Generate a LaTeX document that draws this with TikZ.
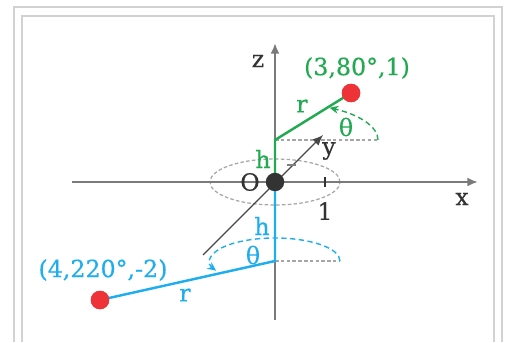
\documentclass[tikz,border=0pt]{standalone}
\usepackage{fontspec}
\setmainfont{DejaVu Serif}[FakeBold=0.5]
\usetikzlibrary{arrows.meta}
\definecolor{cgreen}{HTML}{22AA52}
\definecolor{cblue}{HTML}{1EAEEE}
\definecolor{cred}{HTML}{EE3338}
\definecolor{cdark}{HTML}{333333}
\definecolor{caxis}{HTML}{7A7A7A}
\definecolor{cframe}{HTML}{D2D2D2}
\begin{document}
\begin{tikzpicture}[x=0.02cm,y=0.02cm,
  lbl/.style={font=\fontsize{13.5}{15}\selectfont, inner sep=0pt},
  axisline/.style={draw=caxis, line width=1.2pt, -{Latex[length=6pt,width=5pt]}},
  yaxisline/.style={draw=cdark!90, line width=0.7pt, -{Latex[length=6pt,width=5pt]}},
  guide/.style={draw=gray!70, line width=0.7pt, dash pattern=on 2pt off 1.3pt},
  seg/.style={line width=1.4pt},
  angarc/.style={line width=0.8pt, dash pattern=on 3pt off 2pt, -{Stealth[length=5pt,width=4.5pt]}},
  reddot/.style={circle, fill=cred, minimum size=0.37cm, inner sep=0pt},
  blackdot/.style={circle, fill=cdark, minimum size=0.37cm, inner sep=0pt},
  framebox/.style={draw=cframe, line width=1.3pt}]
\useasboundingbox (0,0) rectangle (510,342);
% frame
\draw[framebox] (14,0) -- (14,335) -- (502,335) -- (502,0);
\draw[framebox] (22,0) -- (22,326) -- (494,326) -- (494,0);
% coordinates
\coordinate (Oc) at (275,160);
\coordinate (xs) at (72,160);
\coordinate (xe) at (478,160);
\coordinate (zs) at (275,22);
\coordinate (ze) at (275,299);
\coordinate (ys) at (203,87);
\coordinate (ye) at (323,207);
\coordinate (H1) at (275,202);
\coordinate (G1) at (378,202);
\coordinate (H2) at (275,81);
\coordinate (G2) at (340,81);
\coordinate (xt1) at (325,155);
\coordinate (xt2) at (325,165);
\coordinate (yt1) at (287,177);
\coordinate (yt2) at (296,177);
% unit ellipse
\draw[guide] (Oc) ellipse [x radius=65, y radius=23];
% guides
\draw[guide] (H1) -- (G1);
\draw[guide] (H2) -- (G2);
% axes
\draw[axisline] (xs) -- (xe);
\draw[axisline] (zs) -- (ze);
\draw[yaxisline] (ys) -- (ye);
\draw[draw=cdark, line width=0.7pt] (xt1) -- (xt2);
\draw[draw=gray, line width=0.7pt] (yt1) -- (yt2);
% points
\node[reddot] (P1) at (351,249) {};
\node[reddot] (P2) at (100,42) {};
% green
\draw[seg, cgreen] (Oc) -- (H1) -- (P1.center);
\draw[angarc, cgreen] (G1) arc[start angle=0, end angle=58, x radius=103, y radius=38];
% blue
\draw[seg, cblue] (Oc) -- (H2) -- (P2.center);
\draw[angarc, cblue] (G2) arc[start angle=0, end angle=205, x radius=65, y radius=23];
% redraw dots on top
\node[reddot] at (P1) {};
\node[reddot] at (P2) {};
\node[blackdot] (O) at (Oc) {};
% labels
\node[lbl, text=cdark] (lO) at (250,160) {O};
\node[lbl, text=cdark] (lz) at (258,281) {z};
\node[lbl, text=cdark] (lx) at (462,143) {x};
\node[lbl, text=cdark] (ly) at (329,191) {y};
\node[lbl, text=cdark] (l1) at (325,131) {1};
\node[lbl, text=cgreen] (lP1) at (357,274) {(3,80°,1)};
\node[lbl, text=cgreen] (lr1) at (302,236) {r};
\node[lbl, text=cgreen] (lt1) at (346,215) {θ};
\node[lbl, text=cgreen] (lh1) at (263,183) {h};
\node[lbl, text=cblue] (lP2) at (103,72) {(4,220°,-2)};
\node[lbl, text=cblue] (lr2) at (185,47) {r};
\node[lbl, text=cblue] (lt2) at (253,87) {θ};
\node[lbl, text=cblue] (lh2) at (262,116) {h};
\end{tikzpicture}
\end{document}
